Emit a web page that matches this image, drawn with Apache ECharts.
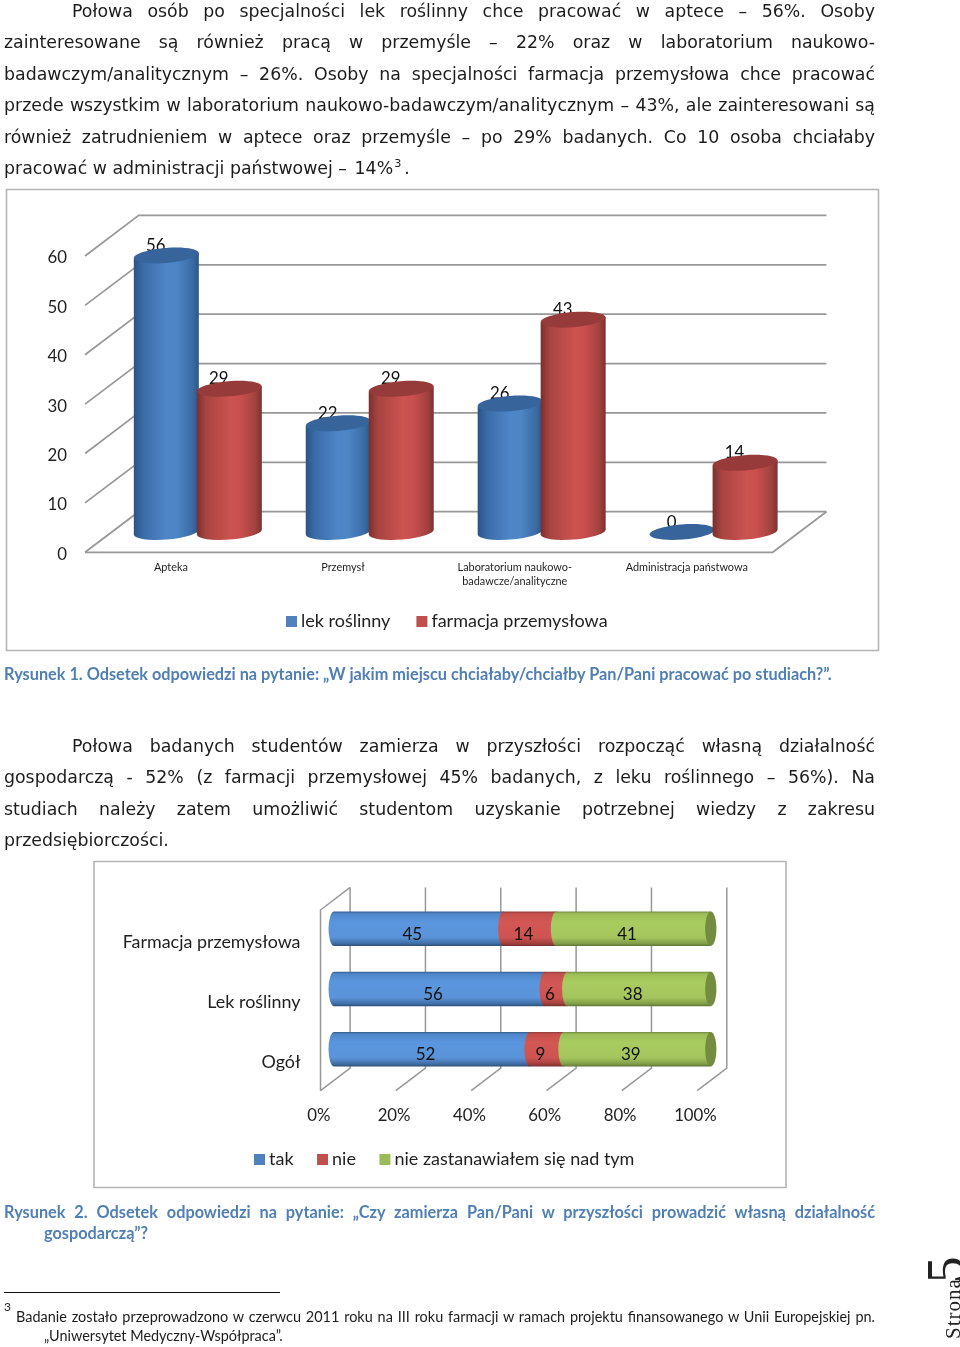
<!DOCTYPE html>
<html lang="pl">
<head>
<meta charset="utf-8">
<title>Rysunki</title>
<script src="https://cdn.jsdelivr.net/npm/echarts@6/dist/echarts.min.js"></script>
<style>
html,body{margin:0;padding:0;background:#fff;}
#page{position:relative;width:960px;height:1347px;overflow:hidden;}
#chart{position:absolute;left:0;top:0;width:960px;height:1347px;}
.ln{position:absolute;white-space:nowrap;transform:translateY(-50%);color:#1c1c1c;}
.j{text-align:justify;text-align-last:justify;white-space:normal;}
.body{font-family:"DejaVu Sans";font-size:17.35px;line-height:22px;}
.cap{font-family:Lato;font-weight:700;font-size:16.28px;line-height:20px;color:#4f7fb3;}
.foot{font-family:Lato;font-size:14.45px;line-height:18px;}
sup{font-size:65%;line-height:0;}
#rule{position:absolute;left:4px;top:1292px;width:276px;height:1.4px;background:#111;}
.rot{position:absolute;transform-origin:left top;transform:rotate(-90deg);white-space:nowrap;font-family:"Liberation Serif";color:#222;}
</style>
</head>
<body>
<div id="page">
<div id="chart"></div>
<div id="text"></div>
<div id="rule"></div>
<div class="rot" style="left:941px;top:1339px;font-size:21px;letter-spacing:1px;">Strona</div>
<div class="rot" style="left:921px;top:1283px;font-size:53px;line-height:48px;">5</div>
</div>
<script>
// ---------- chart 1 data ----------
const categories1 = ['Apteka', 'Przemysł', 'Laboratorium naukowo-\nbadawcze/analityczne', 'Administracja państwowa'];
const lekRoslinny = [56, 22, 26, 0];
const farmacjaPrzemyslowa = [29, 29, 43, 14];
const ticks1 = [0, 10, 20, 30, 40, 50, 60];
// ---------- chart 2 data ----------
const categories2 = ['Farmacja przemysłowa', 'Lek roślinny', 'Ogół'];
const tak = [45, 56, 52];
const nie = [14, 6, 9];
const nieZastanawialem = [41, 38, 39];
const ticks2 = [0, 20, 40, 60, 80, 100];
// ---------- page text ----------
const bodyLines = [
  ['j', 72, 11, 'Połowa osób po specjalności lek roślinny chce pracować w aptece – 56%. Osoby'],
  ['j', 4, 42, 'zainteresowane są również pracą w przemyśle – 22% oraz w laboratorium naukowo-'],
  ['j', 4, 74, 'badawczym/analitycznym – 26%. Osoby na specjalności farmacja przemysłowa chce pracować'],
  ['j', 4, 105, 'przede wszystkim w laboratorium naukowo-badawczym/analitycznym – 43%, ale zainteresowani są'],
  ['j', 4, 137, 'również zatrudnieniem w aptece oraz przemyśle – po 29% badanych. Co 10 osoba chciałaby'],
  ['l', 4, 168, 'pracować w administracji państwowej – <span style="margin-left:2px">14%</span><sup style="margin-left:1px">3</sup><span style="margin-left:3px">.</span>'],
  ['j', 72, 746, 'Połowa badanych studentów zamierza w przyszłości rozpocząć własną działalność'],
  ['j', 4, 777, 'gospodarczą - 52% (z farmacji przemysłowej 45% badanych, z leku roślinnego – 56%). Na'],
  ['j', 4, 809, 'studiach należy zatem umożliwić studentom uzyskanie potrzebnej wiedzy z zakresu'],
  ['l', 4, 840, 'przedsiębiorczości.']
];
const captionLines = [
  ['l', 4, 674, 'Rysunek 1. Odsetek odpowiedzi na pytanie: „W jakim miejscu chciałaby/chciałby Pan/Pani pracować po studiach?”.'],
  ['j', 4, 1212, 'Rysunek 2. Odsetek odpowiedzi na pytanie: „Czy zamierza Pan/Pani w przyszłości prowadzić własną działalność'],
  ['l', 44, 1233, 'gospodarczą”?']
];
const footLines = [
  ['j', 16, 1317, 'Badanie zostało przeprowadzono w czerwcu 2011 roku na III roku farmacji w ramach projektu finansowanego w Unii Europejskiej pn.'],
  ['l', 44, 1336, '„Uniwersytet Medyczny-Współpraca”.'],
  ['l', 4, 1312, '<sup style="font-size:12px">3</sup>']
];
const textHost = document.getElementById('text');
function addLines(lines, cls) {
  lines.forEach(([mode, x, y, html]) => {
    const d = document.createElement('div');
    d.className = 'ln ' + cls + (mode === 'j' ? ' j' : '');
    d.style.left = x + 'px';
    d.style.top = y + 'px';
    if (mode === 'j') d.style.width = (875 - x) + 'px';
    d.innerHTML = html;
    textHost.appendChild(d);
  });
}
addLines(bodyLines, 'body');
addLines(captionLines, 'cap');
addLines(footLines, 'foot');

// ---------- drawing helpers ----------
const LG = (x0, y0, x1, y1, stops) => new echarts.graphic.LinearGradient(x0, y0, x1, y1,
  stops.map((c, i) => ({ offset: c[0], color: c[1] })));
const FONT = 'Lato';
const INK = '#1f1f1f';
const WALL = '#989898';
const palette1 = {
  blue: { side: [[0,'#2a5385'],[0.14,'#3a6ba6'],[0.5,'#4f86c9'],[0.66,'#4e85c6'],[0.9,'#3a6ba4'],[1,'#2b5688']], top: '#37659b' },
  red: { side: [[0,'#77302d'],[0.14,'#a84441'],[0.52,'#cb5350'],[0.68,'#c84f4d'],[0.9,'#a24240'],[1,'#7a312f']], top: '#963b39' }
};
const D1 = { dx: 53.7, dy: -40.6 };   // depth of 3D floor, chart 1
const D2 = { dx: 29.6, dy: -22.6 };   // depth of 3D floor, chart 2

function wall1(params, api) {
  const v = api.value(0);
  const cs = params.coordSys;
  const y = api.coord([0, v])[1];
  const xL = cs.x, xR = cs.x + cs.width;
  const style = { stroke: WALL, lineWidth: 1.7, fill: null };
  const children = [{ type: 'polyline', shape: { points: [[xL, y], [xL + D1.dx, y + D1.dy], [xR + D1.dx, y + D1.dy]] }, style }];
  if (v === 0) children.push({ type: 'polyline', shape: { points: [[xL, y], [xR, y], [xR + D1.dx, y + D1.dy]] }, style });
  return { type: 'group', children };
}
function cylinder(offset, pal) {
  const W = 32.5, RY = 7.6, TILT = 2.6;
  return function (params, api) {
    const v = api.value(1);
    const base = api.coord([api.value(0), 0]);
    const top = api.coord([api.value(0), v]);
    const cx = base[0] + D1.dx / 2 + offset;
    const yb = base[1] + D1.dy / 2, yt = top[1] + D1.dy / 2;
    const rot = -Math.atan2(TILT, W);
    const deg = rot * 180 / Math.PI;
    const path = `M${cx - W},${yt + TILT} L${cx - W},${yb + TILT} A${W} ${RY} ${deg} 0 0 ${cx + W},${yb - TILT} L${cx + W},${yt - TILT} Z`;
    const children = [{
      type: 'text',
      style: { text: String(v), x: cx - 10.5, y: yt - 9.8, font: '16.8px ' + FONT, fill: '#111', align: 'center', verticalAlign: 'middle' }
    }];
    if (v > 0) children.push({ type: 'path', shape: { pathData: path }, style: { fill: LG(0, 0, 1, 0, pal.side) } });
    children.push({
      type: 'ellipse',
      shape: { cx: cx, cy: yt, rx: W, ry: RY },
      originX: cx, originY: yt, rotation: -rot,
      style: { fill: pal.top }
    });
    return { type: 'group', children };
  };
}
function wall2(params, api) {
  const v = api.value(0);
  const cs = params.coordSys;
  const x = api.coord([v, 0])[0];
  const yTop = cs.y, yBot = cs.y + cs.height;
  const style = { stroke: WALL, lineWidth: 1.5, fill: null };
  const children = [{ type: 'polyline', shape: { points: [[x, yBot], [x + D2.dx, yBot + D2.dy], [x + D2.dx, yTop + D2.dy]] }, style }];
  if (v === 0) children.push({ type: 'polyline', shape: { points: [[x, yBot], [x, yTop], [x + D2.dx, yTop + D2.dy]] }, style });
  return { type: 'group', children };
}
function segment(pal, withCap) {
  const H = 17.2, RX = 5.6;
  return function (params, api) {
    const a = api.coord([api.value(0), api.value(2)]);
    const b = api.coord([api.value(1), api.value(2)]);
    const x0 = a[0] + D2.dx / 2 - 1.2, x1 = b[0] + D2.dx / 2 - 1.2, y = a[1] + D2.dy / 2;
    const path = `M${x0},${y - H} L${x1},${y - H} L${x1},${y + H} L${x0},${y + H} A${RX} ${H} 0 0 1 ${x0},${y - H} Z`;
    const children = [{ type: 'path', shape: { pathData: path }, style: { fill: LG(0, 0, 0, 1, pal) } }];
    if (withCap) children.push({ type: 'ellipse', shape: { cx: x1, cy: y, rx: RX, ry: H }, style: { fill: '#738c40' } });
    children.push({
      type: 'text',
      style: { text: String(api.value(3)), x: (x0 + x1) / 2 - 6.5, y: y + 5.5, font: '17px ' + FONT, fill: '#111', align: 'center', verticalAlign: 'middle' }
    });
    return { type: 'group', children };
  };
}
const stackBlue = [[0,'#33608f'],[0.06,'#4f86c8'],[0.3,'#5a96df'],[0.75,'#5a93d8'],[0.93,'#3f6da3'],[1,'#2c4f78']];
const stackRed = [[0,'#913b39'],[0.06,'#c4504d'],[0.3,'#d35754'],[0.75,'#ce5451'],[0.93,'#a03f3d'],[1,'#73302e']];
const stackGreen = [[0,'#718b3e'],[0.06,'#9cbd58'],[0.3,'#a9cc60'],[0.75,'#a4c55d'],[0.93,'#7f9c47'],[1,'#5d7333']];

function stacked(i) {
  const base = [tak, nie, nieZastanawialem];
  return categories2.map((_, c) => {
    let start = 0;
    for (let k = 0; k < i; k++) start += base[k][c];
    return [start, start + base[i][c], c, base[i][c]];
  });
}

const axisText = { fontFamily: FONT, fontSize: 16.8, color: INK };
const chart = echarts.init(document.getElementById('chart'), null, { renderer: 'canvas' });
chart.setOption({
  animation: false,
  backgroundColor: '#fff',
  graphic: [
    { type: 'rect', shape: { x: 6.5, y: 189.5, width: 872, height: 461 }, style: { fill: 'none', stroke: '#b4b4b4', lineWidth: 1.6 }, z: 0 },
    { type: 'rect', shape: { x: 94, y: 861.5, width: 692, height: 326 }, style: { fill: 'none', stroke: '#b4b4b4', lineWidth: 1.6 }, z: 0 }
  ],
  legend: [
    { left: 286, top: 612.5, icon: 'rect', itemWidth: 11, itemHeight: 11, itemGap: 26, padding: 0,
      data: ['lek roślinny', 'farmacja przemysłowa'],
      textStyle: { fontFamily: FONT, fontSize: 18, color: INK, padding: [0, 0, 0, -1] } },
    { left: 254, top: 1150.5, icon: 'rect', itemWidth: 11, itemHeight: 11, itemGap: 23.5, padding: 0,
      data: ['tak', 'nie', 'nie zastanawiałem się nad tym'],
      textStyle: { fontFamily: FONT, fontSize: 18, color: INK, padding: [0, 0, 0, -1] } }
  ],
  grid: [
    { left: 85, top: 256, width: 687.7, height: 296.3 },
    { left: 320.5, top: 910, width: 376.7, height: 180.7 }
  ],
  xAxis: [
    { type: 'category', gridIndex: 0, data: categories1, axisLine: { show: false }, axisTick: { show: false },
      axisLabel: { fontFamily: FONT, fontSize: 10.9, color: INK, margin: 8, lineHeight: 14, interval: 0 } },
    { type: 'value', gridIndex: 1, min: 0, max: 100, interval: 20, axisLine: { show: false }, axisTick: { show: false }, splitLine: { show: false },
      axisLabel: Object.assign({ formatter: '{value}%', margin: 16, padding: [0, 3.5, 0, 0] }, axisText) }
  ],
  yAxis: [
    { type: 'value', gridIndex: 0, min: 0, max: 60, interval: 10, axisLine: { show: false }, axisTick: { show: false }, splitLine: { show: false },
      axisLabel: { margin: 18, formatter: '{t|{value}}', rich: { t: { fontFamily: FONT, fontSize: 16.8, color: INK, padding: [4, 0, 0, 0] } } } },
    { type: 'category', gridIndex: 1, inverse: true, data: categories2, axisLine: { show: false }, axisTick: { show: false },
      axisLabel: { margin: 20, interval: 0, formatter: '{t|{value}}', rich: { t: { fontFamily: FONT, fontSize: 17.9, color: INK, padding: [4, 0, 0, 0] } } } }
  ],
  series: [
    { type: 'custom', name: 'siatka1', xAxisIndex: 0, yAxisIndex: 0, silent: true, encode: { y: 0 }, data: ticks1.map(v => [v]),
      renderItem: wall1 },
    { type: 'custom', name: 'lek roślinny', xAxisIndex: 0, yAxisIndex: 0, itemStyle: { color: '#4f81bd' }, encode: { x: 0, y: 1 },
      data: lekRoslinny.map((v, i) => [i, v]), renderItem: cylinder(-31.5, palette1.blue) },
    { type: 'custom', name: 'farmacja przemysłowa', xAxisIndex: 0, yAxisIndex: 0, itemStyle: { color: '#c0504d' }, encode: { x: 0, y: 1 },
      data: farmacjaPrzemyslowa.map((v, i) => [i, v]), renderItem: cylinder(31.5, palette1.red) },
    { type: 'custom', name: 'siatka2', xAxisIndex: 1, yAxisIndex: 1, silent: true, encode: { x: 0 }, data: ticks2.map(v => [v]),
      renderItem: wall2 },
    { type: 'custom', name: 'tak', xAxisIndex: 1, yAxisIndex: 1, itemStyle: { color: '#4f81bd' }, encode: { x: [0, 1], y: 2 },
      data: stacked(0), renderItem: segment(stackBlue, false) },
    { type: 'custom', name: 'nie', xAxisIndex: 1, yAxisIndex: 1, itemStyle: { color: '#c0504d' }, encode: { x: [0, 1], y: 2 },
      data: stacked(1), renderItem: segment(stackRed, false) },
    { type: 'custom', name: 'nie zastanawiałem się nad tym', xAxisIndex: 1, yAxisIndex: 1, itemStyle: { color: '#9bbb59' }, encode: { x: [0, 1], y: 2 },
      data: stacked(2), renderItem: segment(stackGreen, true) }
  ]
});
</script>
</body>
</html>
